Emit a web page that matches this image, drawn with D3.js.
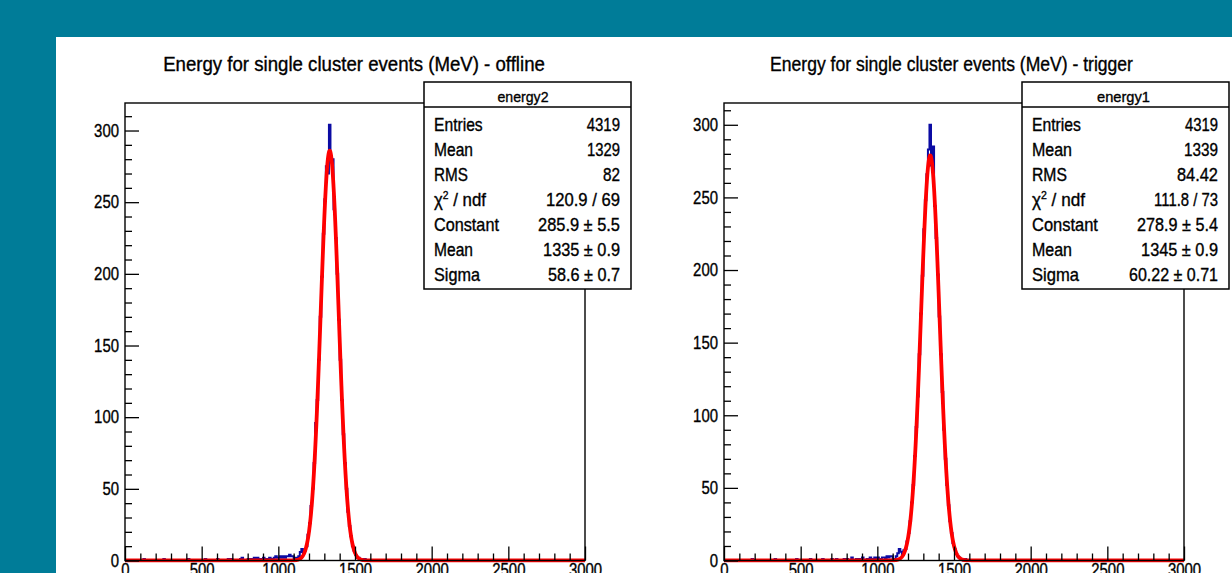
<!DOCTYPE html>
<html><head><meta charset="utf-8">
<script src="https://cdn.jsdelivr.net/npm/d3@7"></script>
<style>html,body{margin:0;padding:0;background:#007c98;overflow:hidden}</style>
</head><body>
<svg id="chart" width="1232" height="573"></svg>
<script>
// ---------------- data ----------------
const binWidth = 10;
const xTicks = [0, 500, 1000, 1500, 2000, 2500, 3000];
const yTicks = [0, 50, 100, 150, 200, 250, 300];
const titles = ["Energy for single cluster events (MeV) - offline",
                "Energy for single cluster events (MeV) - trigger"];
const histNames = ["energy2", "energy1"];
const statLabels = ["Entries", "Mean", "RMS", "CHI", "Constant", "Mean", "Sigma"];

// offline (energy2)
const offlineTailE = [120, 250, 410, 520, 600, 670, 690, 750, 760, 800, 820, 840, 860, 880, 900, 910, 920, 940, 950, 970, 980, 990, 1000, 1010, 1020, 1030, 1040, 1050, 1060, 1070, 1080, 1090];
const offlineTailN = [1, 1, 1, 1, 1, 1, 1, 1, 2, 1, 1, 2, 2, 1, 2, 1, 1, 2, 1, 2, 3, 2, 2, 3, 2, 3, 2, 3, 3, 4, 3, 3];
const offlinePeakStart = 1100;
const offlinePeakCounts = [1, 2, 1, 3, 6, 8, 5, 7, 10, 18,
  26, 38, 50, 68, 96, 112, 140, 170, 198, 228,
  252, 275, 270, 304, 282, 280, 245, 225, 200, 168,
  140, 112, 88, 68, 50, 34, 24, 17, 10, 7,
  4, 2, 2, 1, 1, 0, 1, 0, 0, 0];
const offlineFitParams = [285.9, 1335, 58.6];   // Constant, Mean, Sigma
const offlineStats = ["4319", "1329", "82", "120.9 / 69", "285.9 \u00b1 5.5", "1335 \u00b1 0.9", "58.6 \u00b1 0.7"];

// trigger (energy1)
const triggerTailE = [180, 330, 470, 560, 640, 700, 730, 780, 800, 830, 860, 880, 900, 930, 950, 960, 980, 1000, 1010, 1030, 1040, 1060, 1070, 1080, 1090];
const triggerTailN = [1, 1, 1, 1, 1, 1, 1, 1, 1, 2, 1, 1, 2, 1, 2, 1, 2, 2, 1, 2, 2, 3, 2, 3, 3];
const triggerPeakStart = 1100;
const triggerPeakCounts = [1, 1, 3, 5, 8, 6, 4, 7, 8, 13,
  19, 27, 40, 52, 72, 92, 113, 142, 170, 196,
  228, 248, 266, 283, 300, 272, 285, 244, 222, 197,
  168, 142, 116, 90, 70, 52, 38, 27, 19, 12,
  8, 5, 3, 2, 1, 1, 0, 1, 0, 0];
const triggerFitParams = [278.9, 1345, 60.22];
const triggerStats = ["4319", "1339", "84.42", "111.8 / 73", "278.9 \u00b1 5.4", "1345 \u00b1 0.9", "60.22 \u00b1 0.71"];

// ---------------- layout ----------------
const FONT = "'Liberation Sans', Arial, Helvetica, sans-serif";
const plotTop = 103, plotBottom = 560.5;
const panels = [
  { title: titles[0], name: histNames[0], tailE: offlineTailE, tailN: offlineTailN,
    start: offlinePeakStart, peak: offlinePeakCounts, fit: offlineFitParams, stats: offlineStats,
    left: 125, right: 585, titleX: 354, titleW: 382,
    box: { x: 424, y: 82, w: 207, h: 207 }, nameX: 523, nameW: 51,
    labelW: [48.7, 39, 34, 52, 65, 39, 46], valueW: [33.3, 33, 17, 74, 82, 77, 72] },
  { title: titles[1], name: histNames[1], tailE: triggerTailE, tailN: triggerTailN,
    start: triggerPeakStart, peak: triggerPeakCounts, fit: triggerFitParams, stats: triggerStats,
    left: 724, right: 1184, titleX: 951.5, titleW: 363,
    box: { x: 1022, y: 82, w: 207, h: 207 }, nameX: 1123.5, nameW: 53,
    labelW: [49, 40, 35, 53, 66, 40, 47], valueW: [33, 34, 41, 64, 81, 77, 89] }
];

const svg = d3.select("#chart");
svg.append("rect").attr("width", 1232).attr("height", 573).attr("fill", "#007c98");
svg.append("rect").attr("x", 56).attr("y", 37).attr("width", 1176).attr("height", 536).attr("fill", "#ffffff");

function squeeze(sel, target, ax, ay) {
  const w = sel.node().getComputedTextLength();
  if (!w) return;
  const k = target / w;
  sel.attr("transform", `translate(${ax},${ay}) scale(${k},1) translate(${-ax},${-ay})`);
}

function buildBins(tailE, tailN, start, peak) {
  const n = Math.round(3000 / binWidth);
  const counts = new Array(n).fill(0);
  tailE.forEach((e, i) => { counts[Math.round(e / binWidth)] += tailN[i]; });
  peak.forEach((c, i) => { counts[Math.round(start / binWidth) + i] += c; });
  return counts;
}

const TXT_STROKE = 0.35;

panels.forEach((p, pi) => {
  const counts = buildBins(p.tailE, p.tailN, p.start, p.peak);
  const x = d3.scaleLinear().domain([0, 3000]).range([p.left, p.right]);
  const yMax = d3.max(counts) * 1.05;
  const y = d3.scaleLinear().domain([0, yMax]).range([plotBottom, plotTop]);
  const g = svg.append("g");

  // title
  const t = g.append("text").attr("x", p.titleX).attr("y", 71).attr("text-anchor", "middle")
    .attr("font-family", FONT).attr("font-size", 19.5).attr("fill", "#000")
    .attr("stroke", "#000").attr("stroke-width", TXT_STROKE).text(p.title);
  squeeze(t, p.titleW, p.titleX, 71);

  // clip
  const clipId = "clip" + pi;
  svg.append("clipPath").attr("id", clipId).append("rect")
    .attr("x", p.left).attr("y", plotTop - 2).attr("width", p.right - p.left).attr("height", plotBottom - plotTop + 4);

  // histogram
  const pts = counts.map((c, i) => [i * binWidth, c]);
  pts.push([3000, counts[counts.length - 1]]);
  const step = d3.line().x(d => x(d[0])).y(d => y(d[1])).curve(d3.curveStepAfter);
  g.append("path").attr("d", step(pts)).attr("fill", "none").attr("stroke", "#0b0ba3")
    .attr("stroke-width", 2).attr("clip-path", `url(#${clipId})`);

  // gaussian fit function from its fitted parameters
  const [A, mu, sig] = p.fit;
  const fx = d3.range(0, 3000.001, 1.5).map(e => [e, A * Math.exp(-0.5 * ((e - mu) / sig) ** 2)]);
  const fl = d3.line().x(d => x(d[0])).y(d => y(d[1]));
  g.append("path").attr("d", fl(fx)).attr("fill", "none").attr("stroke", "#ff0000")
    .attr("stroke-width", 3.8).attr("stroke-linejoin", "round").attr("clip-path", `url(#${clipId})`);

  // frame
  g.append("rect").attr("x", p.left).attr("y", plotTop).attr("width", p.right - p.left)
    .attr("height", plotBottom - plotTop).attr("fill", "none").attr("stroke", "#000").attr("stroke-width", 1.4);

  // y axis
  const gy = g.append("g").attr("transform", `translate(${p.left},0)`)
    .call(d3.axisLeft(y).tickValues(yTicks).tickSize(-14).tickPadding(6).tickFormat(d3.format("d")));
  const yMinor = d3.range(0, yMax, 10).filter(v => v % 50 !== 0);
  const gym = g.append("g").attr("transform", `translate(${p.left},0)`)
    .call(d3.axisLeft(y).tickValues(yMinor).tickSize(-7).tickFormat(""));
  // x axis
  const gx = g.append("g").attr("transform", `translate(0,${plotBottom})`)
    .call(d3.axisBottom(x).tickValues(xTicks).tickSize(-14).tickPadding(3).tickFormat(d3.format("d")));
  const xMinor = d3.range(100, 3000, 100).filter(v => v % 500 !== 0);
  const gxm = g.append("g").attr("transform", `translate(0,${plotBottom})`)
    .call(d3.axisBottom(x).tickValues(xMinor).tickSize(-7).tickFormat(""));
  [gy, gym, gx, gxm].forEach(a => {
    a.select(".domain").remove();
    a.selectAll("line").attr("stroke", "#000").attr("stroke-width", 1.3);
    a.attr("font-family", FONT).attr("font-size", 18);
    a.selectAll("text").attr("fill", "#000").attr("stroke", "#000").attr("stroke-width", TXT_STROKE);
  });
  gy.selectAll(".tick text").each(function () {
    const s = d3.select(this);
    const w = this.getComputedTextLength();
    squeeze(s, w * 0.83, +s.attr("x"), 0);
  });
  gx.selectAll(".tick text").each(function () {
    const s = d3.select(this);
    const w = this.getComputedTextLength();
    squeeze(s, w * 0.83, 0, 0);
  });

  // stats box
  const b = p.box;
  const sb = g.append("g");
  sb.append("rect").attr("x", b.x).attr("y", b.y).attr("width", b.w).attr("height", b.h)
    .attr("fill", "#fff").attr("stroke", "#000").attr("stroke-width", 1.5);
  sb.append("line").attr("x1", b.x).attr("x2", b.x + b.w).attr("y1", 107).attr("y2", 107)
    .attr("stroke", "#000").attr("stroke-width", 1.3);
  const hn = sb.append("text").attr("x", p.nameX).attr("y", 102).attr("text-anchor", "middle")
    .attr("font-family", FONT).attr("font-size", 15.5).attr("fill", "#000")
    .attr("stroke", "#000").attr("stroke-width", TXT_STROKE).text(p.name);
  squeeze(hn, p.nameW, p.nameX, 102);
  statLabels.forEach((lab, i) => {
    const by = 131 + 25 * i;
    const lx = b.x + 10;
    const lt = sb.append("text").attr("x", lx).attr("y", by).attr("text-anchor", "start")
      .attr("font-family", FONT).attr("font-size", 18).attr("fill", "#000")
      .attr("stroke", "#000").attr("stroke-width", TXT_STROKE);
    if (lab === "CHI") {
      lt.append("tspan").text("\u03c7");
      lt.append("tspan").attr("dy", -7).attr("font-size", 11).text("2");
      lt.append("tspan").attr("dy", 7).text(" / ndf");
    } else {
      lt.text(lab);
    }
    squeeze(lt, p.labelW[i], lx, by);
    const vx = b.x + 196;
    const vt = sb.append("text").attr("x", vx).attr("y", by).attr("text-anchor", "end")
      .attr("font-family", FONT).attr("font-size", 18).attr("fill", "#000")
      .attr("stroke", "#000").attr("stroke-width", TXT_STROKE).text(p.stats[i]);
    squeeze(vt, p.valueW[i], vx, by);
  });
});
</script>
</body></html>
